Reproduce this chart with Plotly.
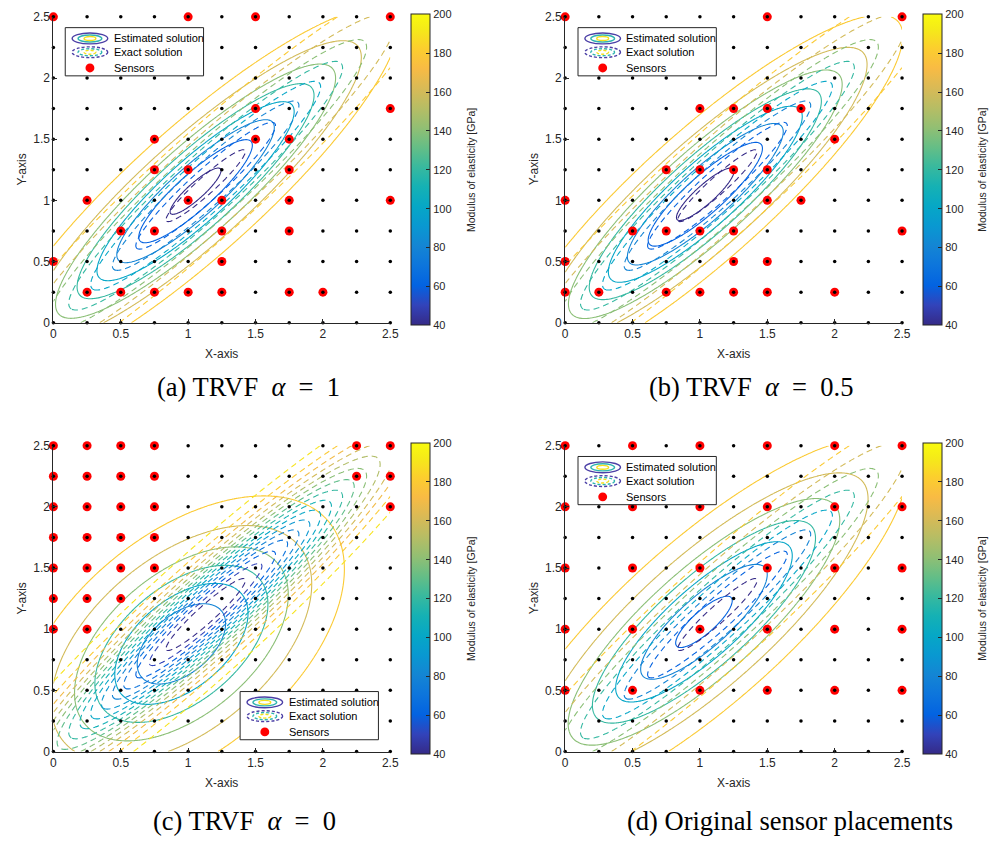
import numpy as np
import plotly.graph_objects as go

FIG_W, FIG_H = 998, 851

# ---------------- data ----------------
GRID_POINTS = [0.0, 0.25, 0.5, 0.75, 1.0, 1.25, 1.5, 1.75, 2.0, 2.25, 2.5]
AXIS_TICKS = [0, 0.5, 1, 1.5, 2, 2.5]
AXIS_TICK_TEXT = ["0", "0.5", "1", "1.5", "2", "2.5"]
CBAR_TICKS = [40, 60, 80, 100, 120, 140, 160, 180, 200]
E_RANGE = [40, 200]

SENSORS_A_X = [0, 1.0, 1.5, 2.5, 1.5, 2.5, 0.75, 1.5, 1.75, 0.75, 1.0, 1.75,
               0.25, 1.0, 1.25, 1.75, 2.5, 0.5, 0.75, 1.25, 1.75, 0, 1.25,
               0.25, 0.5, 0.75, 1.0, 1.25, 1.75, 2.0]
SENSORS_A_Y = [2.5, 2.5, 2.5, 2.5, 1.75, 1.75, 1.5, 1.5, 1.5, 1.25, 1.25, 1.25,
               1.0, 1.0, 1.0, 1.0, 1.0, 0.75, 0.75, 0.75, 0.75, 0.5, 0.5,
               0.25, 0.25, 0.25, 0.25, 0.25, 0.25, 0.25]

SENSORS_B_X = [0, 1.5, 2.5, 1.0, 1.25, 1.5, 1.75, 2.0, 0.75, 1.0, 1.25, 1.5,
               0, 1.5, 1.75, 0.5, 0.75, 1.0, 1.25, 2.5, 0, 1.25, 1.5,
               0, 0.25, 0.75, 1.0, 1.25, 1.5, 2.0]
SENSORS_B_Y = [2.5, 2.5, 2.5, 1.75, 1.75, 1.75, 1.75, 1.5, 1.25, 1.25, 1.25, 1.25,
               1.0, 1.0, 1.0, 0.75, 0.75, 0.75, 0.75, 0.75, 0.5, 0.5, 0.5,
               0.25, 0.25, 0.25, 0.25, 0.25, 0.25, 0.25]

SENSORS_C_X = [0, 0.25, 0.5, 0.75, 2.25, 2.5, 0, 0.25, 0.5, 0.75, 2.25, 2.5,
               0, 0.25, 0.5, 0.75, 2.5, 0, 0.25, 0.5, 0.75, 0, 0.25, 0.5, 0.75,
               0, 0.25, 0.5, 0, 0.25]
SENSORS_C_Y = [2.5, 2.5, 2.5, 2.5, 2.5, 2.5, 2.25, 2.25, 2.25, 2.25, 2.25, 2.25,
               2.0, 2.0, 2.0, 2.0, 2.0, 1.75, 1.75, 1.75, 1.75, 1.5, 1.5, 1.5, 1.5,
               1.25, 1.25, 1.25, 1.0, 1.0]

SENSORS_D_X = [0, 0.5, 1.0, 1.5, 2.0, 2.5] * 5
SENSORS_D_Y = [2.5] * 6 + [2.0] * 6 + [1.5] * 6 + [1.0] * 6 + [0.5] * 6

# elasticity fields:
# [centre x, centre y, depth of the dip, spread along diagonal, spread across diagonal]
E_MAX = 199.5
EXACT_FIELD = [1.13, 1.12, 170, 1.15, 0.19]
EST_FIELD_A = [1.055, 1.075, 165, 1.00, 0.242]
EST_FIELD_B = [1.04, 1.05, 167, 0.97, 0.242]
EST_FIELD_C = [0.95, 0.88, 138, 0.75, 0.43]
EST_FIELD_D = [1.03, 1.06, 145, 1.02, 0.316]
LEVEL_STEP_EST = [20, 20, 20, 20]
LEVEL_STEP_EXACT = [20, 20, 10, 20]

NB = "\u00a0"
CAPTIONS = ["(a) TRVF" + NB + " <i>α</i>" + NB + " =" + NB + " 1",
            "(b) TRVF" + NB + " <i>α</i>" + NB + " =" + NB + " 0.5",
            "(c) TRVF" + NB + " <i>α</i>" + NB + " =" + NB + " 0",
            "(d) Original sensor placements"]
CAPTION_CENTRES = [(248, 386), (757, 386), (244, 828), (797, 828)]
LEGEND_NAMES = ["Estimated solution", "Exact solution", "Sensors"]

# ---------------- style ----------------
PARULA_RGB = [
    (0, (0.2081, 0.1663, 0.5292)), (4, (0.1959, 0.2645, 0.7279)),
    (8, (0.0117, 0.3875, 0.8820)), (12, (0.0498, 0.4586, 0.8641)),
    (16, (0.0793, 0.5200, 0.8312)), (20, (0.0343, 0.5966, 0.8199)),
    (24, (0.0228, 0.6535, 0.7768)), (28, (0.0843, 0.6928, 0.7062)),
    (32, (0.2178, 0.7250, 0.6193)), (36, (0.3953, 0.7459, 0.5244)),
    (40, (0.5709, 0.7485, 0.4494)), (44, (0.7184, 0.7411, 0.3905)),
    (48, (0.8507, 0.7299, 0.3360)), (52, (0.9739, 0.7314, 0.2666)),
    (56, (0.9880, 0.8066, 0.1794)), (60, (0.9598, 0.9218, 0.0948)),
    (63, (0.9763, 0.9831, 0.0538)),
]
PARULA = [[i / 63, "rgb(%d,%d,%d)" % tuple(int(round(c * 255)) for c in rgb)]
          for i, rgb in PARULA_RGB]

AX_COLOR = "#262626"
SANS = "Liberation Sans, Arial, sans-serif"
SERIF = "Liberation Serif, Times New Roman, serif"

# panel boxes in pixels: left, right, top, bottom
PANELS = [
    dict(box=(51, 392, 10, 321), cbar=413, legend=(63, 21)),
    dict(box=(569, 910, 10, 321), cbar=931, legend=(582, 21)),
    dict(box=(51, 392, 446, 757), cbar=413, legend=(240, 696)),
    dict(box=(569, 910, 446, 757), cbar=931, legend=(582, 457)),
]
SENSORS = [(SENSORS_A_X, SENSORS_A_Y), (SENSORS_B_X, SENSORS_B_Y),
           (SENSORS_C_X, SENSORS_C_Y), (SENSORS_D_X, SENSORS_D_Y)]
EST_FIELDS = [EST_FIELD_A, EST_FIELD_B, EST_FIELD_C, EST_FIELD_D]


def px_x(p):
    return p / FIG_W


def px_y(p):
    return 1 - p / FIG_H


def field(params, X, Y):
    cx, cy, depth, su, sv = params
    dx, dy = X - cx, Y - cy
    u = (dx + dy) / np.sqrt(2)
    v = (dy - dx) / np.sqrt(2)
    return E_MAX - depth * np.exp(-0.5 * ((u / su) ** 2 + (v / sv) ** 2))


xs = np.linspace(GRID_POINTS[0], GRID_POINTS[-1], 251)
XX, YY = np.meshgrid(xs, xs)
Z_EXACT = field(EXACT_FIELD, XX, YY)

gx, gy = np.meshgrid(GRID_POINTS, GRID_POINTS)
gx, gy = gx.ravel(), gy.ravel()

fig = go.Figure()
shapes, annotations = [], []

for k, p in enumerate(PANELS):
    xa = "x" if k == 0 else "x%d" % (k + 1)
    ya = "y" if k == 0 else "y%d" % (k + 1)
    l, r, t, b = p["box"]

    z_est = field(EST_FIELDS[k], XX, YY)
    for z, step, dash in [(z_est, LEVEL_STEP_EST[k], "solid"),
                          (Z_EXACT, LEVEL_STEP_EXACT[k], "6px,4px")]:
        fig.add_trace(go.Contour(
            x=xs, y=xs, z=z, xaxis=xa, yaxis=ya,
            contours=dict(coloring="lines", start=E_RANGE[0], end=E_RANGE[1],
                          size=step, showlabels=False),
            autocontour=False, line=dict(width=1.1, dash=dash, smoothing=1),
            colorscale=PARULA, zmin=E_RANGE[0], zmax=E_RANGE[1], zauto=False,
            showscale=False, hoverinfo="skip", showlegend=False))

    sx, sy = SENSORS[k]
    fig.add_trace(go.Scatter(x=sx, y=sy, mode="markers", xaxis=xa, yaxis=ya,
                             marker=dict(size=9, color="#ff0000"),
                             cliponaxis=False, showlegend=False, hoverinfo="skip"))
    fig.add_trace(go.Scatter(x=gx, y=gy, mode="markers", xaxis=xa, yaxis=ya,
                             marker=dict(size=3.5, color="black"),
                             cliponaxis=False, showlegend=False, hoverinfo="skip"))
    # colour bar carrier
    fig.add_trace(go.Scatter(
        x=[-1, -1], y=[-1, -1], mode="markers", xaxis=xa, yaxis=ya,
        marker=dict(size=1, color=E_RANGE, cmin=E_RANGE[0], cmax=E_RANGE[1],
                    colorscale=PARULA, showscale=True,
                    colorbar=dict(
                        x=px_x(p["cbar"]), xanchor="left", xpad=0,
                        y=px_y((t + b) / 2), yanchor="middle", ypad=0,
                        len=b - t, lenmode="pixels", thickness=19,
                        thicknessmode="pixels", outlinewidth=1,
                        outlinecolor=AX_COLOR, tickmode="array",
                        tickvals=CBAR_TICKS, ticks="inside", ticklen=4,
                        tickcolor=AX_COLOR, tickprefix=NB + NB,
                        tickfont=dict(size=11, color=AX_COLOR, family=SANS))),
        showlegend=False, hoverinfo="skip"))

    axis_common = dict(range=[0, 2.5], showline=True, linecolor=AX_COLOR,
                       linewidth=1, ticks="inside", ticklen=4, tickcolor=AX_COLOR,
                       tickmode="array", tickvals=AXIS_TICKS, ticktext=AXIS_TICK_TEXT,
                       showgrid=False, zeroline=False, mirror=False,
                       tickfont=dict(size=12, color=AX_COLOR, family=SANS))
    fig.update_layout(**{
        ("xaxis" if k == 0 else "xaxis%d" % (k + 1)):
            dict(axis_common, domain=[px_x(l), px_x(r)], anchor=ya),
        ("yaxis" if k == 0 else "yaxis%d" % (k + 1)):
            dict(axis_common, domain=[px_y(b), px_y(t)], anchor=xa),
    })

    # axis titles
    annotations.append(dict(text="X-axis", x=px_x((l + r) / 2), y=px_y(b + 32),
                            font=dict(size=12, color=AX_COLOR, family=SANS)))
    annotations.append(dict(text="Y-axis", x=px_x(l - 32), y=px_y((t + b) / 2),
                            textangle=-90,
                            font=dict(size=12, color=AX_COLOR, family=SANS)))
    annotations.append(dict(text="Modulus of elasticity [GPa]",
                            x=px_x(p["cbar"] + 60), y=px_y((t + b) / 2),
                            textangle=-90,
                            font=dict(size=10.5, color=AX_COLOR, family=SANS)))
    cxp, cyp = CAPTION_CENTRES[k]
    annotations.append(dict(text=CAPTIONS[k], x=px_x(cxp), y=px_y(cyp),
                            font=dict(size=26.5, color="black", family=SERIF)))

    # legend box
    lx, ly = p["legend"]
    shapes.append(dict(type="rect", xref="paper", yref="paper",
                       x0=px_x(lx), x1=px_x(lx + 140), y0=px_y(ly + 49), y1=px_y(ly),
                       line=dict(color=AX_COLOR, width=1), fillcolor="white",
                       layer="above"))
    icx = lx + 25
    for row, dash in [(11, "solid"), (25, "dash")]:
        cy = ly + row
        for rx, ry, col in [(18, 5.5, "#4b3fa6"), (12, 3.6, "#2fb4b0"),
                            (6, 2, "#f2e01e")]:
            shapes.append(dict(type="circle", xref="paper", yref="paper",
                               x0=px_x(icx - rx), x1=px_x(icx + rx),
                               y0=px_y(cy + ry), y1=px_y(cy - ry),
                               line=dict(color=col, width=1.4,
                                         dash="solid" if dash == "solid" else "3px,2px"),
                               layer="above"))
    shapes.append(dict(type="circle", xref="paper", yref="paper",
                       x0=px_x(icx - 4.5), x1=px_x(icx + 4.5),
                       y0=px_y(ly + 41 + 4.5), y1=px_y(ly + 41 - 4.5),
                       line=dict(width=0), fillcolor="#ff0000", layer="above"))
    for row, name in zip([11, 25, 41], LEGEND_NAMES):
        annotations.append(dict(text=name, x=px_x(lx + 47), y=px_y(ly + row),
                                xanchor="left",
                                font=dict(size=11, color="black", family=SANS)))

for a in annotations:
    a.setdefault("xanchor", "center")
    a.update(xref="paper", yref="paper", yanchor="middle", showarrow=False)

fig.update_layout(width=FIG_W, height=FIG_H, margin=dict(l=0, r=0, t=0, b=0),
                  paper_bgcolor="white", plot_bgcolor="white",
                  showlegend=False, shapes=shapes, annotations=annotations)

fig.write_html("out.html")
